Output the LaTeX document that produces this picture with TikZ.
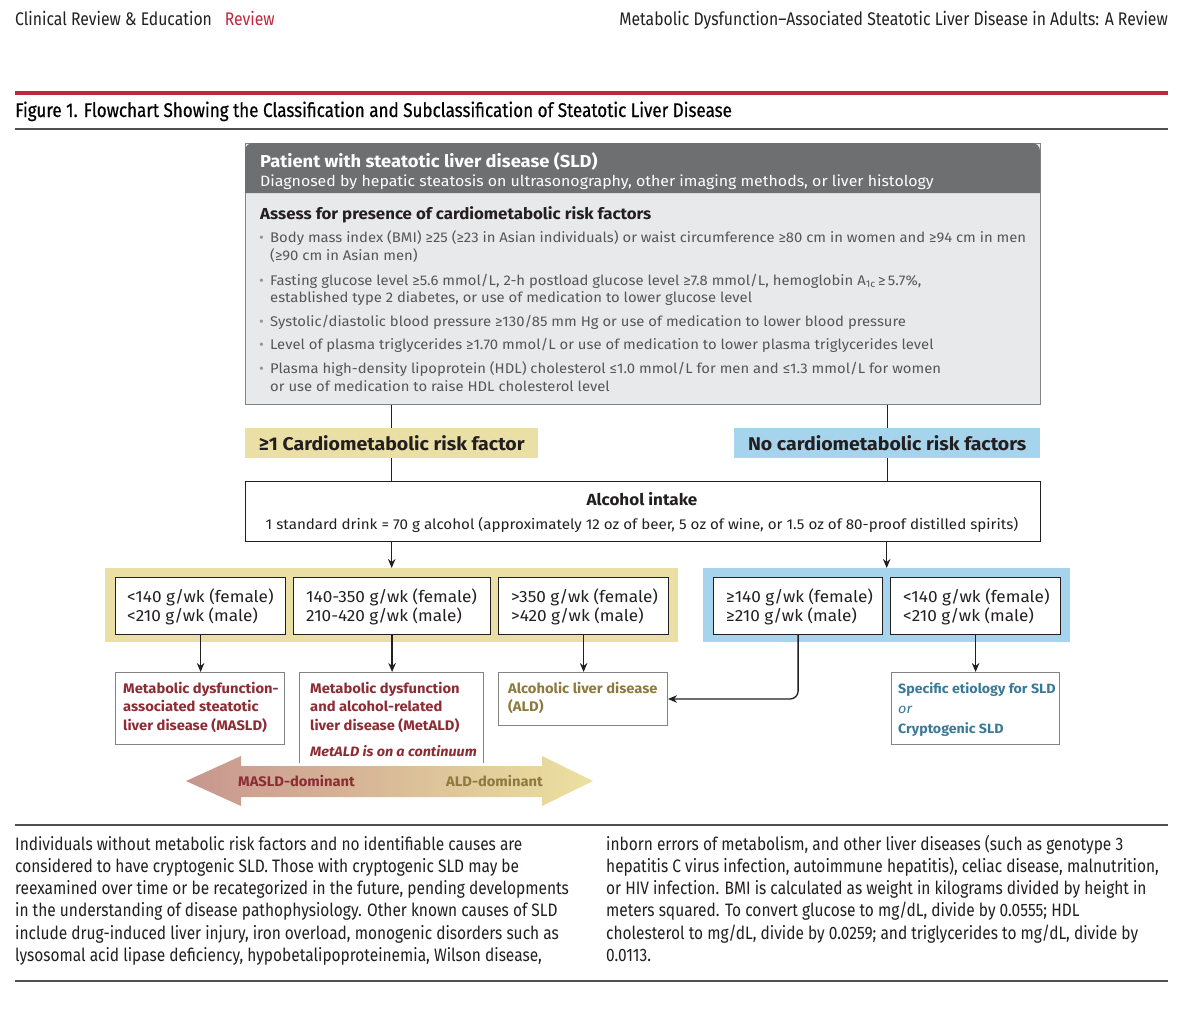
\documentclass[tikz,border=0pt]{standalone}
\usepackage{fontspec}
\setmainfont{Fira Sans}
\newfontfamily\condfont{Fira Sans}[FakeStretch=0.86]
\newfontfamily\titfont{Fira Sans}[FakeStretch=0.86, FakeBold=0.5]
\newfontfamily\flowfont{Fira Sans}[FakeStretch=1.06]
\usetikzlibrary{arrows.meta}
\definecolor{jred}{RGB}{192,39,60}
\definecolor{rulegray}{RGB}{80,80,80}
\definecolor{headgray}{RGB}{110,111,113}
\definecolor{bodygray}{RGB}{232,233,234}
\definecolor{boxgray}{RGB}{130,131,133}
\definecolor{bultext}{RGB}{85,86,88}
\definecolor{bulgray}{RGB}{150,150,150}
\definecolor{ylw}{RGB}{234,223,164}
\definecolor{blu}{RGB}{166,212,236}
\definecolor{dred}{RGB}{140,45,52}
\definecolor{olive}{RGB}{140,122,62}
\definecolor{tealtx}{RGB}{58,122,150}
\definecolor{arrL}{RGB}{199,150,143}
\definecolor{arrR}{RGB}{236,225,160}
\definecolor{txtdark}{RGB}{35,31,32}
\newcommand\fsHead{\condfont\fontsize{18.3}{20}\selectfont}
\newcommand\fsTitle{\titfont\fontsize{19.8}{22}\selectfont}
\newcommand\fsCap{\condfont\fontsize{18}{22}\selectfont}
\newcommand\fsBul{\flowfont\fontsize{14}{18}\selectfont}
\newcommand\fsPat{\flowfont\bfseries\fontsize{17.3}{19}\selectfont}
\newcommand\fsDiag{\flowfont\fontsize{15}{19}\selectfont}
\newcommand\fsAss{\flowfont\bfseries\fontsize{15.9}{19}\selectfont}
\newcommand\fsLab{\flowfont\bfseries\fontsize{18.4}{20}\selectfont}
\newcommand\fsAlc{\flowfont\bfseries\fontsize{16.1}{19}\selectfont}
\newcommand\fsAlcs{\flowfont\fontsize{14.3}{18}\selectfont}
\newcommand\fsBand{\flowfont\fontsize{16.2}{19}\selectfont}
\newcommand\fsOut{\flowfont\bfseries\fontsize{13.9}{18}\selectfont}
\newcommand\fsCont{\flowfont\bfseries\itshape\fontsize{13.6}{18}\selectfont}
\newcommand\fsSpec{\flowfont\bfseries\fontsize{13.4}{18}\selectfont}
\begin{document}
\begin{tikzpicture}[x=1pt,y=-1pt,
  lbl/.style={anchor=base west, inner sep=0pt},
  conn/.style={line width=1.3pt, draw=txtdark},
  arr/.style={conn, -{Stealth[length=9pt,width=7.5pt]}},
  wbox/.style={draw=txtdark, line width=1.2pt, fill=white, inner sep=0pt, anchor=north west},
  obox/.style={draw=boxgray, line width=1pt, fill=white, inner sep=0pt, anchor=north west},
  bul/.style={anchor=base west, inner sep=0pt, font=\fsBul, text=bultext},
  bdot/.style={anchor=base west, inner sep=0pt, font=\fsBul, text=bulgray},
  capl/.style={anchor=base west, inner sep=0pt, font=\fsCap, text=txtdark},
]
\useasboundingbox (0,0) rectangle (1200,1010);
\fill[white] (0,0) rectangle (1200,1010);

% ---------- page header ----------
\node[lbl, font=\fsHead, text=txtdark] (hl) at (15,25) {Clinical Review \& Education\hspace{13pt}\textcolor{jred}{Review}};
\node[anchor=base east, inner sep=0pt, font=\fsHead, text=txtdark] (hr) at (1168,25) {Metabolic Dysfunction–Associated Steatotic Liver Disease in Adults: A Review};
\draw[jred, line width=4pt] (15,93) -- (1168,93);
\node[lbl, font=\fsTitle, text=black] (title) at (15,117) {Figure 1. Flowchart Showing the Classification and Subclassification of Steatotic Liver Disease};
\draw[rulegray, line width=1.5pt] (15,129) -- (1168,129);

% ---------- top box ----------
\node[anchor=north west, minimum width=795pt, minimum height=261pt, inner sep=0pt, fill=bodygray, draw=boxgray, line width=1pt] (sld) at (245,143) {};
\fill[headgray] (245,193) [rounded corners=8pt] -- (245,143) -- (1040,143) [sharp corners] -- (1040,193) -- cycle;
\node[lbl, font=\fsPat, text=white] (t1) at (260,167) {Patient with steatotic liver disease (SLD)};
\node[lbl, font=\fsDiag, text=white] (t2) at (260,186) {Diagnosed by hepatic steatosis on ultrasonography, other imaging methods, or liver histology};
\node[lbl, font=\fsAss, text=txtdark] (t3) at (260,219) {Assess for presence of cardiometabolic risk factors};

\node[bdot] (d1) at (259,242) {•};
\node[bul] (l1) at (270,242) {Body mass index (BMI) ≥25 (≥23 in Asian individuals) or waist circumference ≥80 cm in women and ≥94 cm in men};
\node[bul] (l1b) at (270,260) {(≥90 cm in Asian men)};
\node[bdot] (d2) at (259,285) {•};
\node[bul] (l2) at (270,285) {Fasting glucose level ≥5.6 mmol/L, 2-h postload glucose level ≥7.8 mmol/L, hemoglobin A\textsubscript{1c}\,≥\,5.7\%,};
\node[bul] (l2b) at (270,302) {established type 2 diabetes, or use of medication to lower glucose level};
\node[bdot] (d3) at (259,326) {•};
\node[bul] (l3) at (270,326) {Systolic/diastolic blood pressure ≥130/85 mm Hg or use of medication to lower blood pressure};
\node[bdot] (d4) at (259,349) {•};
\node[bul] (l4) at (270,349) {Level of plasma triglycerides ≥1.70 mmol/L or use of medication to lower plasma triglycerides level};
\node[bdot] (d5) at (259,373) {•};
\node[bul] (l5) at (270,373) {Plasma high-density lipoprotein (HDL) cholesterol ≤1.0 mmol/L for men and ≤1.3 mmol/L for women};
\node[bul] (l5b) at (270,391) {or use of medication to raise HDL cholesterol level};

% ---------- risk labels ----------
\node[anchor=north west, minimum width=293pt, minimum height=30pt, inner sep=0pt, fill=ylw] (yl) at (245,428) {};
\node[anchor=base, font=\fsLab, text=txtdark, inner sep=0pt] (ylt) at ([yshift=-7pt]yl.center) {≥1 Cardiometabolic risk factor};
\node[anchor=north west, minimum width=306pt, minimum height=30pt, inner sep=0pt, fill=blu] (bl) at (734,428) {};
\node[anchor=base, font=\fsLab, text=txtdark, inner sep=0pt] (blt) at ([yshift=-7pt]bl.center) {No cardiometabolic risk factors};

\draw[conn] (sld.south -| yl.north) -- (yl.north);
\draw[conn] (sld.south -| bl.north) -- (bl.north);

% ---------- alcohol box ----------
\node[wbox, minimum width=795pt, minimum height=60pt] (alc) at (245,481) {};
\node[anchor=base, inner sep=0pt, font=\fsAlc, text=txtdark] (alct) at (642,505) {Alcohol intake};
\node[anchor=base, inner sep=0pt, font=\fsAlcs, text=txtdark] (alcs) at (642,529) {1 standard drink = 70 g alcohol (approximately 12 oz of beer, 5 oz of wine, or 1.5 oz of 80-proof distilled spirits)};
\draw[conn] (yl.south) -- (yl.south |- alc.north);
\draw[conn] (bl.south) -- (bl.south |- alc.north);

% ---------- bands ----------
\node[anchor=north west, minimum width=573pt, minimum height=74pt, inner sep=0pt, fill=ylw] (yband) at (105,568) {};
\node[anchor=north west, minimum width=367pt, minimum height=74pt, inner sep=0pt, fill=blu] (bband) at (703,568) {};
\draw[arr] (alc.south -| yband.north) -- (yband.north);
\draw[arr] (alc.south -| bband.north) -- (bband.north);

\node[wbox, minimum width=170pt, minimum height=57pt] (b1) at (115,577) {};
\node[wbox, minimum width=197pt, minimum height=57pt] (b2) at (293,577) {};
\node[wbox, minimum width=170pt, minimum height=57pt] (b3) at (498,577) {};
\node[wbox, minimum width=169pt, minimum height=57pt] (c1) at (713,577) {};
\node[wbox, minimum width=170pt, minimum height=57pt] (c2) at (890,577) {};

\node[lbl, font=\fsBand, text=txtdark] (b1a) at (127,602) {<140 g/wk (female)};
\node[lbl, font=\fsBand, text=txtdark] (b1b) at (127,621) {<210 g/wk (male)};
\node[lbl, font=\fsBand, text=txtdark] (b2a) at (306,602) {140-350 g/wk (female)};
\node[lbl, font=\fsBand, text=txtdark] (b2b) at (306,621) {210-420 g/wk (male)};
\node[lbl, font=\fsBand, text=txtdark] (b3a) at (511,602) {>350 g/wk (female)};
\node[lbl, font=\fsBand, text=txtdark] (b3b) at (511,621) {>420 g/wk (male)};
\node[lbl, font=\fsBand, text=txtdark] (c1a) at (726,602) {≥140 g/wk (female)};
\node[lbl, font=\fsBand, text=txtdark] (c1b) at (726,621) {≥210 g/wk (male)};
\node[lbl, font=\fsBand, text=txtdark] (c2a) at (903,602) {<140 g/wk (female)};
\node[lbl, font=\fsBand, text=txtdark] (c2b) at (903,621) {<210 g/wk (male)};

% ---------- outcome boxes ----------
\node[obox, minimum width=169pt, minimum height=72pt] (masld) at (115,672) {};
\node[anchor=north west, minimum width=184pt, minimum height=91pt, inner sep=0pt, fill=white] (metald) at (299,672) {};
\draw[boxgray, line width=1pt] (metald.south west) -- (metald.north west) -- (metald.north east) -- (metald.south east);
\node[obox, minimum width=169pt, minimum height=53pt] (ald) at (498,672) {};
\node[obox, minimum width=168pt, minimum height=72pt] (spec) at (891,672) {};

\node[lbl, font=\fsOut, text=dred] (m1) at (123,693) {Metabolic dysfunction-};
\node[lbl, font=\fsOut, text=dred] (m2) at (123,711) {associated steatotic};
\node[lbl, font=\fsOut, text=dred] (m3) at (123,730) {liver disease (MASLD)};
\node[lbl, font=\fsOut, text=dred] (n1) at (310,693) {Metabolic dysfunction};
\node[lbl, font=\fsOut, text=dred] (n2) at (310,711) {and alcohol-related};
\node[lbl, font=\fsOut, text=dred] (n3) at (310,730) {liver disease (MetALD)};
\node[lbl, font=\fsCont, text=dred] (n4) at (310,756) {MetALD is on a continuum};
\node[lbl, font=\fsOut, text=olive] (a1) at (508,693) {Alcoholic liver disease};
\node[lbl, font=\fsOut, text=olive] (a2) at (508,711) {(ALD)};
\node[lbl, font=\fsSpec, text=tealtx] (s1) at (898,693) {Specific etiology for SLD};
\node[lbl, font=\flowfont\fontsize{13.6}{18}\selectfont\itshape, text=tealtx] (s2) at (898,713) {or};
\node[lbl, font=\fsSpec, text=tealtx] (s3) at (898,733) {Cryptogenic SLD};

\draw[arr] (b1.south) -- (b1.south |- masld.north);
\draw[arr] (b2.south) -- (b2.south |- metald.north);
\draw[arr] (b3.south) -- (b3.south |- ald.north);
\draw[arr] (c2.south) -- (c2.south |- spec.north);
\draw[arr, rounded corners=8pt] (c1.south) |- (ald.east);

% ---------- continuum arrow ----------
\shade[left color=arrL, right color=arrR] (186,781) -- (241,756) -- (241,766) -- (542,766) -- (542,756) -- (593,781) -- (542,806) -- (542,797) -- (241,797) -- (241,806) -- cycle;
\node[lbl, font=\fsOut, text=dred] (md) at (238,786) {MASLD-dominant};
\node[lbl, font=\fsOut, text=olive] (ad) at (446,786) {ALD-dominant};

% ---------- caption ----------
\draw[rulegray, line width=1.5pt] (15,825) -- (1168,825);
\node[capl] (cl1) at (15,850) {Individuals without metabolic risk factors and no identifiable causes are};
\node[capl] (cl2) at (15,872) {considered to have cryptogenic SLD. Those with cryptogenic SLD may be};
\node[capl] (cl3) at (15,894) {reexamined over time or be recategorized in the future, pending developments};
\node[capl] (cl4) at (15,916) {in the understanding of disease pathophysiology. Other known causes of SLD};
\node[capl] (cl5) at (15,939) {include drug-induced liver injury, iron overload, monogenic disorders such as};
\node[capl] (cl6) at (15,961) {lysosomal acid lipase deficiency, hypobetalipoproteinemia, Wilson disease,};
\node[capl] (cr1) at (606,850) {inborn errors of metabolism, and other liver diseases (such as genotype 3};
\node[capl] (cr2) at (606,872) {hepatitis C virus infection, autoimmune hepatitis), celiac disease, malnutrition,};
\node[capl] (cr3) at (606,894) {or HIV infection. BMI is calculated as weight in kilograms divided by height in};
\node[capl] (cr4) at (606,916) {meters squared. To convert glucose to mg/dL, divide by 0.0555; HDL};
\node[capl] (cr5) at (606,939) {cholesterol to mg/dL, divide by 0.0259; and triglycerides to mg/dL, divide by};
\node[capl] (cr6) at (606,961) {0.0113.};
\draw[rulegray, line width=1.5pt] (15,981) -- (1168,981);
\end{tikzpicture}
\end{document}
